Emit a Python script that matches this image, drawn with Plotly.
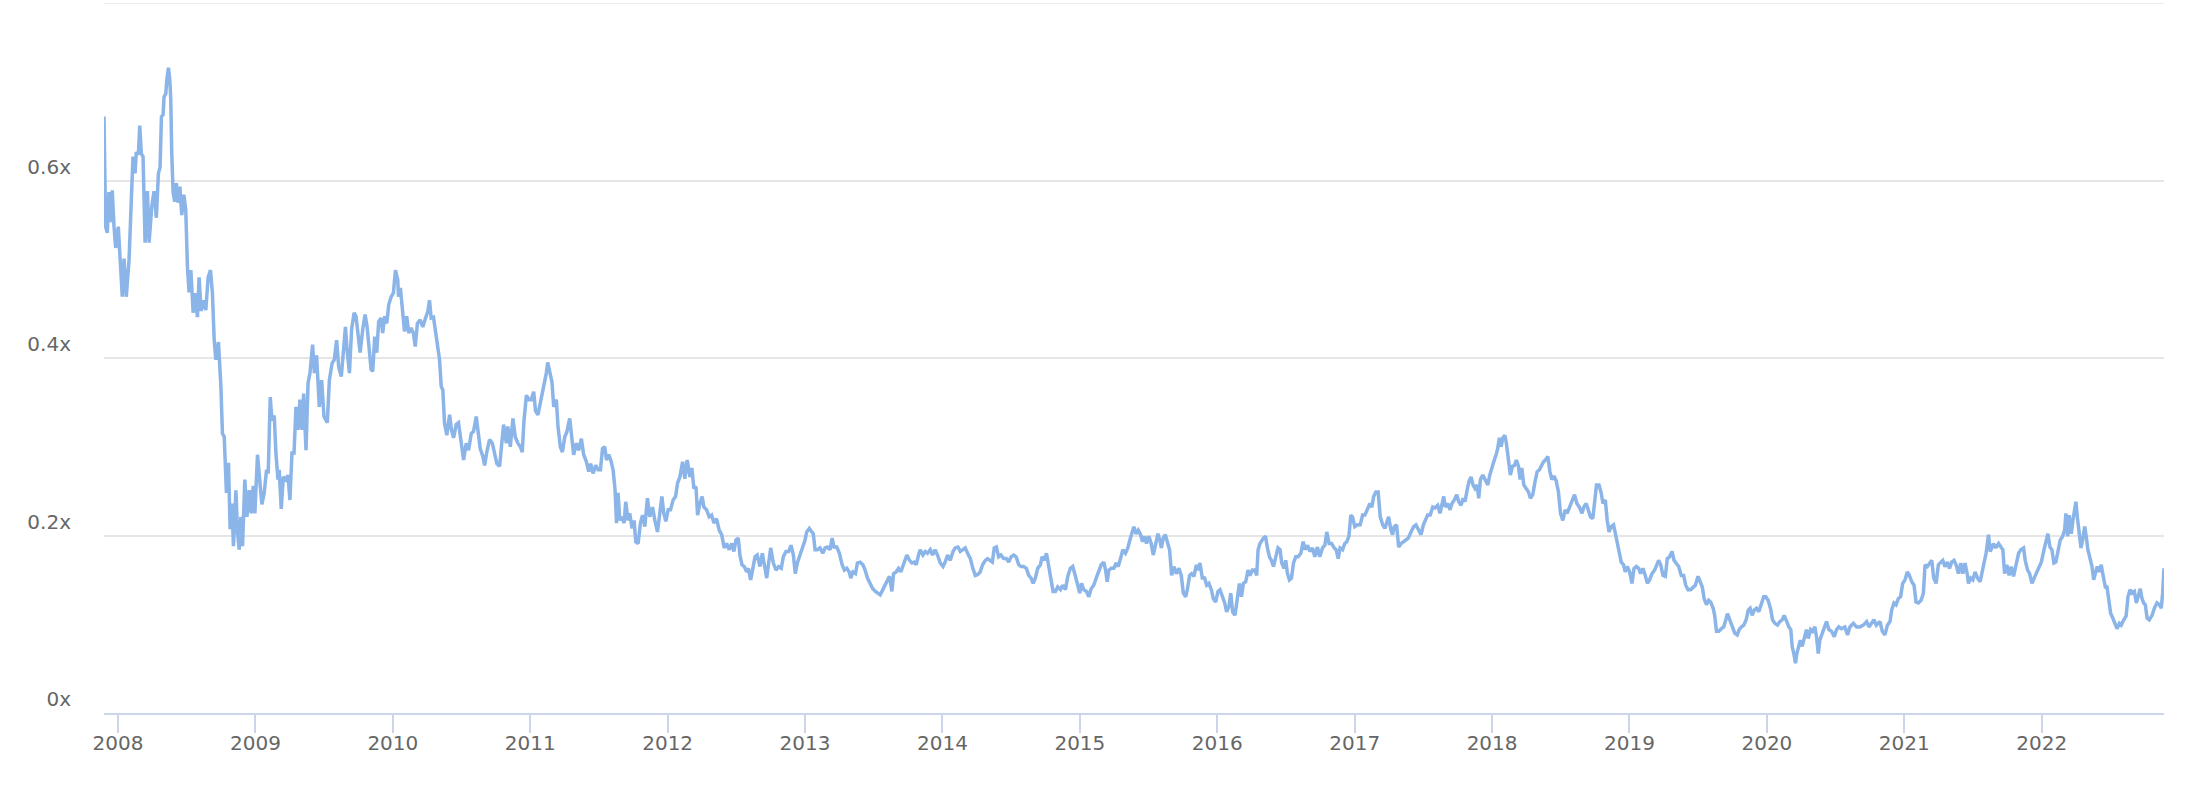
import plotly.graph_objects as go

# decimal year of each reading, and the ratio value (x)
years = [
2007.898,2007.903,2007.910,2007.922,2007.934,2007.947,2007.958,2007.971,2007.983,2008.002,
2008.020,2008.031,2008.044,2008.060,2008.080,2008.100,2008.109,2008.124,2008.133,2008.148,
2008.158,2008.170,2008.182,2008.197,2008.214,2008.226,2008.246,2008.262,2008.279,2008.294,
2008.306,2008.316,2008.328,2008.335,2008.348,2008.355,2008.367,2008.377,2008.384,2008.391,
2008.401,2008.413,2008.425,2008.437,2008.450,2008.464,2008.479,2008.493,2008.505,2008.517,
2008.530,2008.547,2008.561,2008.578,2008.590,2008.605,2008.620,2008.639,2008.656,2008.673,
2008.687,2008.700,2008.712,2008.731,2008.749,2008.760,2008.773,2008.789,2008.804,2008.816,
2008.829,2008.840,2008.858,2008.870,2008.882,2008.894,2008.906,2008.923,2008.938,2008.955,
2008.969,2008.984,2008.996,2009.015,2009.033,2009.047,2009.064,2009.081,2009.093,2009.108,
2009.120,2009.137,2009.149,2009.164,2009.173,2009.188,2009.203,2009.222,2009.237,2009.251,
2009.266,2009.281,2009.295,2009.310,2009.324,2009.339,2009.351,2009.368,2009.383,2009.397,
2009.416,2009.429,2009.445,2009.465,2009.482,2009.499,2009.523,2009.538,2009.558,2009.574,
2009.591,2009.606,2009.625,2009.640,2009.655,2009.669,2009.684,2009.700,2009.718,2009.732,
2009.747,2009.762,2009.781,2009.798,2009.813,2009.829,2009.842,2009.854,2009.868,2009.883,
2009.897,2009.915,2009.926,2009.941,2009.956,2009.970,2009.988,2010.004,2010.019,2010.036,
2010.041,2010.055,2010.072,2010.085,2010.101,2010.116,2010.133,2010.150,2010.163,2010.179,
2010.199,2010.218,2010.238,2010.254,2010.267,2010.279,2010.296,2010.310,2010.327,2010.340,
2010.352,2010.364,2010.376,2010.393,2010.413,2010.427,2010.442,2010.461,2010.478,2010.498,
2010.515,2010.534,2010.551,2010.571,2010.587,2010.607,2010.622,2010.636,2010.655,2010.668,
2010.684,2010.704,2010.724,2010.740,2010.757,2010.777,2010.794,2010.806,2010.826,2010.837,
2010.855,2010.874,2010.891,2010.910,2010.928,2010.942,2010.954,2010.972,2010.991,2011.008,
2011.025,2011.039,2011.056,2011.074,2011.088,2011.105,2011.117,2011.127,2011.141,2011.158,
2011.171,2011.190,2011.202,2011.219,2011.234,2011.251,2011.267,2011.287,2011.302,2011.316,
2011.336,2011.353,2011.372,2011.389,2011.409,2011.426,2011.440,2011.457,2011.477,2011.493,
2011.511,2011.526,2011.542,2011.555,2011.571,2011.586,2011.603,2011.617,2011.628,2011.639,
2011.652,2011.668,2011.683,2011.695,2011.712,2011.724,2011.741,2011.756,2011.768,2011.785,
2011.802,2011.817,2011.834,2011.853,2011.870,2011.890,2011.907,2011.926,2011.943,2011.958,
2011.972,2011.987,2012.004,2012.021,2012.040,2012.058,2012.072,2012.089,2012.109,2012.125,
2012.142,2012.162,2012.176,2012.191,2012.206,2012.218,2012.235,2012.251,2012.264,2012.283,
2012.302,2012.320,2012.337,2012.356,2012.375,2012.393,2012.412,2012.429,2012.448,2012.466,
2012.482,2012.497,2012.514,2012.526,2012.541,2012.558,2012.575,2012.587,2012.604,2012.619,
2012.636,2012.652,2012.672,2012.689,2012.706,2012.721,2012.735,2012.750,2012.769,2012.789,
2012.808,2012.827,2012.842,2012.861,2012.881,2012.898,2012.915,2012.929,2012.944,2012.964,
2012.983,2013.000,2013.012,2013.031,2013.049,2013.060,2013.073,2013.090,2013.109,2013.129,
2013.146,2013.163,2013.182,2013.197,2013.211,2013.231,2013.250,2013.270,2013.286,2013.304,
2013.321,2013.333,2013.348,2013.367,2013.381,2013.401,2013.421,2013.437,2013.454,2013.474,
2013.493,2013.512,2013.532,2013.547,2013.566,2013.583,2013.600,2013.614,2013.632,2013.644,
2013.663,2013.680,2013.697,2013.712,2013.729,2013.741,2013.760,2013.778,2013.794,2013.809,
2013.826,2013.838,2013.858,2013.875,2013.891,2013.911,2013.928,2013.947,2013.964,2013.984,
2014.004,2014.020,2014.037,2014.057,2014.077,2014.093,2014.113,2014.130,2014.149,2014.166,
2014.183,2014.203,2014.221,2014.239,2014.257,2014.275,2014.292,2014.312,2014.329,2014.348,
2014.363,2014.377,2014.392,2014.409,2014.426,2014.445,2014.465,2014.482,2014.499,2014.518,
2014.536,2014.555,2014.572,2014.591,2014.611,2014.628,2014.645,2014.660,2014.676,2014.693,
2014.713,2014.725,2014.742,2014.757,2014.773,2014.791,2014.805,2014.822,2014.839,2014.859,
2014.875,2014.895,2014.912,2014.931,2014.948,2014.968,2014.985,2014.999,2015.012,2015.028,
2015.048,2015.065,2015.082,2015.101,2015.119,2015.138,2015.155,2015.174,2015.187,2015.199,
2015.211,2015.228,2015.247,2015.264,2015.279,2015.296,2015.313,2015.332,2015.349,2015.364,
2015.378,2015.393,2015.408,2015.425,2015.442,2015.456,2015.471,2015.485,2015.502,2015.519,
2015.534,2015.551,2015.568,2015.582,2015.593,2015.607,2015.622,2015.636,2015.653,2015.668,
2015.684,2015.702,2015.721,2015.738,2015.753,2015.770,2015.782,2015.799,2015.813,2015.830,
2015.848,2015.862,2015.874,2015.891,2015.908,2015.923,2015.939,2015.957,2015.971,2015.988,
2016.005,2016.020,2016.037,2016.054,2016.068,2016.085,2016.098,2016.112,2016.129,2016.146,
2016.161,2016.176,2016.190,2016.207,2016.224,2016.238,2016.256,2016.273,2016.287,2016.297,
2016.311,2016.336,2016.351,2016.365,2016.380,2016.394,2016.409,2016.426,2016.442,2016.457,
2016.469,2016.486,2016.498,2016.511,2016.525,2016.540,2016.555,2016.571,2016.588,2016.608,
2016.625,2016.639,2016.657,2016.674,2016.693,2016.710,2016.729,2016.746,2016.766,2016.783,
2016.797,2016.814,2016.832,2016.851,2016.865,2016.880,2016.894,2016.912,2016.928,2016.943,
2016.958,2016.972,2016.984,2017.001,2017.021,2017.040,2017.058,2017.074,2017.094,2017.111,
2017.125,2017.138,2017.154,2017.171,2017.186,2017.204,2017.220,2017.235,2017.247,2017.264,
2017.276,2017.288,2017.305,2017.320,2017.337,2017.356,2017.373,2017.390,2017.410,2017.429,
2017.446,2017.463,2017.483,2017.500,2017.517,2017.531,2017.550,2017.568,2017.584,2017.604,
2017.621,2017.636,2017.648,2017.660,2017.677,2017.694,2017.708,2017.725,2017.743,2017.757,
2017.774,2017.789,2017.803,2017.818,2017.832,2017.847,2017.861,2017.876,2017.891,2017.903,
2017.915,2017.932,2017.949,2017.969,2017.983,2017.998,2018.012,2018.029,2018.041,2018.053,
2018.066,2018.078,2018.093,2018.104,2018.119,2018.133,2018.148,2018.163,2018.177,2018.192,
2018.204,2018.216,2018.231,2018.248,2018.265,2018.279,2018.296,2018.313,2018.328,2018.344,
2018.357,2018.374,2018.388,2018.406,2018.421,2018.435,2018.450,2018.466,2018.483,2018.498,
2018.515,2018.532,2018.546,2018.563,2018.581,2018.600,2018.617,2018.636,2018.654,2018.668,
2018.685,2018.702,2018.716,2018.733,2018.745,2018.760,2018.778,2018.794,2018.807,2018.824,
2018.838,2018.851,2018.867,2018.884,2018.899,2018.911,2018.926,2018.940,2018.957,2018.969,
2018.984,2019.001,2019.018,2019.033,2019.050,2019.067,2019.081,2019.098,2019.115,2019.130,
2019.146,2019.164,2019.183,2019.200,2019.212,2019.227,2019.244,2019.261,2019.275,2019.292,
2019.310,2019.324,2019.341,2019.358,2019.377,2019.394,2019.409,2019.426,2019.445,2019.463,
2019.479,2019.499,2019.516,2019.530,2019.543,2019.560,2019.576,2019.591,2019.609,2019.620,
2019.633,2019.650,2019.669,2019.686,2019.701,2019.713,2019.730,2019.747,2019.766,2019.784,
2019.798,2019.815,2019.832,2019.849,2019.864,2019.878,2019.893,2019.908,2019.924,2019.941,
2019.961,2019.977,2019.992,2020.009,2020.026,2020.041,2020.058,2020.077,2020.094,2020.111,
2020.126,2020.143,2020.160,2020.174,2020.184,2020.196,2020.208,2020.218,2020.228,2020.243,
2020.257,2020.272,2020.288,2020.301,2020.318,2020.332,2020.349,2020.361,2020.374,2020.385,
2020.403,2020.417,2020.434,2020.451,2020.471,2020.490,2020.507,2020.523,2020.543,2020.567,
2020.587,2020.604,2020.629,2020.653,2020.677,2020.702,2020.726,2020.743,2020.762,2020.779,
2020.796,2020.823,2020.840,2020.859,2020.877,2020.896,2020.908,2020.925,2020.940,2020.957,
2020.973,2020.988,2021.005,2021.022,2021.037,2021.054,2021.071,2021.085,2021.102,2021.122,
2021.139,2021.151,2021.168,2021.183,2021.200,2021.214,2021.231,2021.248,2021.265,2021.280,
2021.296,2021.314,2021.329,2021.345,2021.362,2021.377,2021.394,2021.411,2021.426,2021.442,
2021.460,2021.467,2021.484,2021.499,2021.515,2021.533,2021.552,2021.569,2021.584,2021.595,
2021.613,2021.625,2021.637,2021.649,2021.666,2021.686,2021.703,2021.717,2021.730,2021.746,
2021.763,2021.778,2021.795,2021.812,2021.832,2021.848,2021.868,2021.880,2021.897,2021.912,
2021.929,2021.945,2021.965,2021.982,2021.997,2022.014,2022.031,2022.045,2022.060,2022.074,
2022.089,2022.103,2022.118,2022.135,2022.152,2022.167,2022.176,2022.189,2022.200,2022.215,
2022.227,2022.237,2022.249,2022.259,2022.273,2022.286,2022.298,2022.313,2022.324,2022.336,
2022.349,2022.366,2022.378,2022.390,2022.404,2022.419,2022.433,2022.448,2022.463,2022.475,
2022.487,2022.502,2022.517,2022.531,2022.548,2022.565,2022.579,2022.597,2022.614,2022.628,
2022.643,2022.657,2022.674,2022.689,2022.706,2022.717,2022.730,2022.742,2022.754,2022.767,
2022.783,2022.803,2022.820,2022.839,2022.856,2022.870,2022.880,2022.890,
]

ratio = [
0.672,0.586,0.548,0.541,0.587,0.553,0.589,0.548,0.524,0.548,
0.488,0.469,0.512,0.469,0.510,0.578,0.627,0.608,0.632,0.629,
0.662,0.630,0.627,0.530,0.588,0.530,0.571,0.588,0.558,0.608,
0.615,0.672,0.674,0.694,0.698,0.713,0.727,0.713,0.691,0.631,
0.586,0.576,0.597,0.575,0.593,0.561,0.584,0.567,0.503,0.474,
0.499,0.451,0.473,0.446,0.491,0.453,0.465,0.454,0.491,0.499,
0.473,0.420,0.398,0.418,0.367,0.315,0.311,0.248,0.282,0.207,
0.236,0.188,0.251,0.203,0.184,0.221,0.188,0.263,0.221,0.251,
0.225,0.256,0.225,0.291,0.263,0.235,0.248,0.274,0.270,0.356,
0.330,0.335,0.293,0.263,0.274,0.230,0.266,0.263,0.268,0.240,
0.293,0.293,0.345,0.319,0.353,0.319,0.360,0.296,0.372,0.383,
0.415,0.383,0.403,0.345,0.375,0.334,0.327,0.375,0.394,0.398,
0.420,0.390,0.379,0.412,0.435,0.406,0.383,0.432,0.451,0.447,
0.428,0.406,0.432,0.449,0.435,0.406,0.387,0.385,0.424,0.406,
0.441,0.445,0.428,0.447,0.439,0.460,0.469,0.473,0.499,0.488,
0.469,0.479,0.451,0.430,0.447,0.428,0.434,0.428,0.413,0.439,
0.443,0.435,0.445,0.452,0.465,0.445,0.446,0.432,0.415,0.398,
0.368,0.364,0.327,0.313,0.336,0.319,0.310,0.325,0.327,0.304,
0.285,0.304,0.296,0.315,0.317,0.334,0.317,0.298,0.289,0.279,
0.294,0.308,0.304,0.294,0.281,0.278,0.304,0.325,0.304,0.323,
0.300,0.332,0.311,0.304,0.300,0.294,0.328,0.358,0.353,0.353,
0.362,0.340,0.336,0.349,0.361,0.370,0.383,0.395,0.385,0.373,
0.345,0.353,0.323,0.300,0.294,0.311,0.317,0.332,0.311,0.291,
0.304,0.296,0.309,0.291,0.283,0.272,0.281,0.270,0.279,0.274,
0.274,0.298,0.300,0.285,0.291,0.285,0.274,0.252,0.214,0.248,
0.217,0.221,0.214,0.238,0.217,0.225,0.208,0.217,0.193,0.191,
0.214,0.223,0.210,0.242,0.221,0.232,0.217,0.204,0.225,0.244,
0.225,0.216,0.229,0.229,0.240,0.244,0.259,0.266,0.283,0.264,
0.285,0.266,0.276,0.253,0.255,0.223,0.236,0.244,0.232,0.229,
0.221,0.223,0.214,0.219,0.206,0.201,0.186,0.191,0.184,0.191,
0.182,0.195,0.197,0.178,0.167,0.165,0.159,0.163,0.150,0.163,
0.176,0.178,0.165,0.180,0.165,0.152,0.169,0.186,0.169,0.161,
0.165,0.163,0.176,0.182,0.182,0.189,0.178,0.157,0.169,0.178,
0.187,0.195,0.204,0.208,0.204,0.202,0.184,0.184,0.186,0.180,
0.186,0.187,0.184,0.197,0.187,0.187,0.180,0.167,0.161,0.163,
0.159,0.152,0.159,0.157,0.169,0.170,0.167,0.161,0.152,0.146,
0.140,0.137,0.135,0.133,0.139,0.144,0.150,0.154,0.137,0.157,
0.159,0.163,0.159,0.165,0.174,0.178,0.172,0.169,0.170,0.167,
0.178,0.184,0.178,0.182,0.180,0.184,0.178,0.184,0.178,0.169,
0.165,0.170,0.178,0.172,0.182,0.186,0.187,0.182,0.184,0.186,
0.180,0.174,0.163,0.155,0.156,0.159,0.167,0.172,0.174,0.172,
0.170,0.186,0.187,0.176,0.178,0.174,0.174,0.170,0.176,0.178,
0.176,0.167,0.165,0.165,0.163,0.155,0.152,0.146,0.152,0.163,
0.167,0.176,0.172,0.180,0.167,0.152,0.137,0.137,0.142,0.139,
0.144,0.139,0.154,0.163,0.165,0.154,0.144,0.135,0.146,0.139,
0.137,0.131,0.140,0.144,0.152,0.159,0.167,0.170,0.161,0.148,
0.161,0.163,0.163,0.169,0.165,0.174,0.184,0.180,0.186,0.195,
0.201,0.210,0.202,0.206,0.201,0.193,0.199,0.191,0.199,0.191,
0.178,0.191,0.202,0.195,0.186,0.197,0.201,0.193,0.184,0.155,
0.165,0.157,0.163,0.155,0.135,0.131,0.139,0.155,0.157,0.154,
0.167,0.161,0.169,0.152,0.152,0.144,0.146,0.139,0.129,0.125,
0.137,0.139,0.131,0.124,0.114,0.120,0.135,0.114,0.110,0.131,
0.146,0.131,0.146,0.148,0.161,0.155,0.161,0.161,0.155,0.184,
0.191,0.197,0.199,0.186,0.176,0.172,0.165,0.176,0.186,0.184,
0.169,0.163,0.172,0.157,0.150,0.152,0.169,0.176,0.176,0.180,
0.193,0.184,0.189,0.182,0.186,0.176,0.187,0.176,0.186,0.189,
0.204,0.191,0.191,0.186,0.184,0.174,0.186,0.184,0.191,0.193,
0.199,0.223,0.221,0.210,0.212,0.212,0.223,0.223,0.229,0.236,
0.232,0.244,0.249,0.249,0.221,0.212,0.208,0.214,0.221,0.206,
0.201,0.210,0.212,0.187,0.191,0.193,0.195,0.197,0.204,0.210,
0.212,0.206,0.201,0.212,0.219,0.223,0.223,0.232,0.231,0.234,
0.225,0.236,0.244,0.232,0.236,0.229,0.236,0.240,0.246,0.238,
0.234,0.242,0.238,0.251,0.261,0.266,0.257,0.253,0.257,0.242,
0.263,0.268,0.263,0.257,0.268,0.278,0.283,0.291,0.298,0.310,
0.300,0.310,0.313,0.304,0.287,0.268,0.278,0.279,0.285,0.278,
0.263,0.276,0.257,0.253,0.249,0.242,0.246,0.261,0.272,0.274,
0.279,0.283,0.285,0.289,0.272,0.263,0.267,0.262,0.249,0.225,
0.217,0.229,0.225,0.232,0.238,0.246,0.236,0.232,0.225,0.232,
0.236,0.229,0.221,0.219,0.240,0.257,0.257,0.248,0.236,0.240,
0.217,0.204,0.210,0.212,0.201,0.191,0.178,0.170,0.167,0.159,
0.165,0.159,0.146,0.163,0.165,0.163,0.157,0.163,0.155,0.146,
0.150,0.157,0.161,0.169,0.172,0.167,0.155,0.154,0.174,0.176,
0.182,0.172,0.169,0.165,0.155,0.155,0.144,0.139,0.139,0.142,
0.144,0.154,0.148,0.142,0.129,0.122,0.127,0.125,0.118,0.110,
0.092,0.092,0.095,0.097,0.105,0.112,0.105,0.097,0.090,0.088,
0.094,0.097,0.099,0.105,0.116,0.118,0.110,0.116,0.118,0.114,
0.124,0.131,0.131,0.127,0.118,0.105,0.101,0.099,0.103,0.105,
0.110,0.103,0.097,0.094,0.075,0.067,0.056,0.067,0.075,0.082,
0.075,0.084,0.094,0.084,0.094,0.092,0.097,0.086,0.067,0.082,
0.090,0.094,0.103,0.094,0.092,0.086,0.094,0.097,0.095,0.097,
0.088,0.097,0.101,0.097,0.097,0.099,0.103,0.097,0.101,0.105,
0.099,0.103,0.092,0.088,0.099,0.103,0.116,0.124,0.122,0.129,
0.131,0.146,0.150,0.159,0.155,0.148,0.144,0.125,0.124,0.127,
0.135,0.167,0.165,0.169,0.172,0.152,0.146,0.167,0.169,0.172,
0.165,0.170,0.163,0.170,0.172,0.167,0.157,0.169,0.157,0.169,
0.155,0.146,0.152,0.150,0.159,0.152,0.148,0.161,0.176,0.180,
0.201,0.182,0.186,0.191,0.186,0.191,0.187,0.184,0.157,0.167,
0.155,0.165,0.154,0.165,0.180,0.184,0.186,0.172,0.161,0.157,
0.146,0.152,0.159,0.163,0.170,0.182,0.193,0.202,0.187,0.184,
0.169,0.170,0.182,0.195,0.199,0.206,0.225,0.199,0.223,0.202,
0.217,0.225,0.238,0.221,0.202,0.186,0.195,0.210,0.199,0.184,
0.176,0.165,0.150,0.159,0.165,0.159,0.167,0.154,0.142,0.142,
0.127,0.112,0.107,0.101,0.095,0.101,0.099,0.105,0.109,0.131,
0.139,0.135,0.137,0.124,0.133,0.140,0.129,0.124,0.122,0.107,
0.105,0.110,0.118,0.124,0.122,0.118,0.135,0.163,
]

tick_years = list(range(2008, 2023))
tick_year_labels = [str(y) for y in tick_years]
y_ticks = [0, 0.2, 0.4, 0.6, 0.8]
y_tick_labels = ["0x", "0.2x", "0.4x", "0.6x", ""]
y_max = 0.8

fig = go.Figure()
fig.add_trace(go.Scatter(
    x=years, y=ratio, mode="lines",
    line=dict(color="#8bb4e8", width=3.5),
    hoverinfo="skip", showlegend=False,
))

# top gridline sits on the plot edge, draw it explicitly
fig.add_shape(type="line", xref="paper", yref="y", x0=0, x1=1, y0=y_max, y1=y_max,
              line=dict(color="#e6e6e6", width=1.5), layer="below")

fig.update_layout(
    width=2204, height=788,
    margin=dict(l=104, r=40, t=3, b=75),
    paper_bgcolor="white", plot_bgcolor="white",
    font=dict(family="DejaVu Sans", size=20, color="#666666"),
    showlegend=False,
)
fig.update_xaxes(
    range=[min(years), max(years)],
    tickmode="array", tickvals=tick_years, ticktext=tick_year_labels,
    showgrid=False, zeroline=False,
    showline=True, linecolor="#ccd6eb", linewidth=1.5,
    ticks="outside", ticklen=18, tickcolor="#ccd6eb", tickwidth=1.5,
    ticklabelstandoff=-7,
    tickfont=dict(family="DejaVu Sans", size=20, color="#666666"),
)
fig.update_yaxes(
    range=[0, y_max],
    tickmode="array", tickvals=y_ticks, ticktext=y_tick_labels,
    showgrid=True, gridcolor="#e6e6e6", gridwidth=1.5,
    zeroline=False, showline=False, ticks="",
    ticklabelposition="outside top", ticklabelstandoff=32,
    tickfont=dict(family="DejaVu Sans", size=20, color="#666666"),
)

fig.write_html("out.html", config={"displayModeBar": False},
               post_script="document.body.style.margin='0';")
